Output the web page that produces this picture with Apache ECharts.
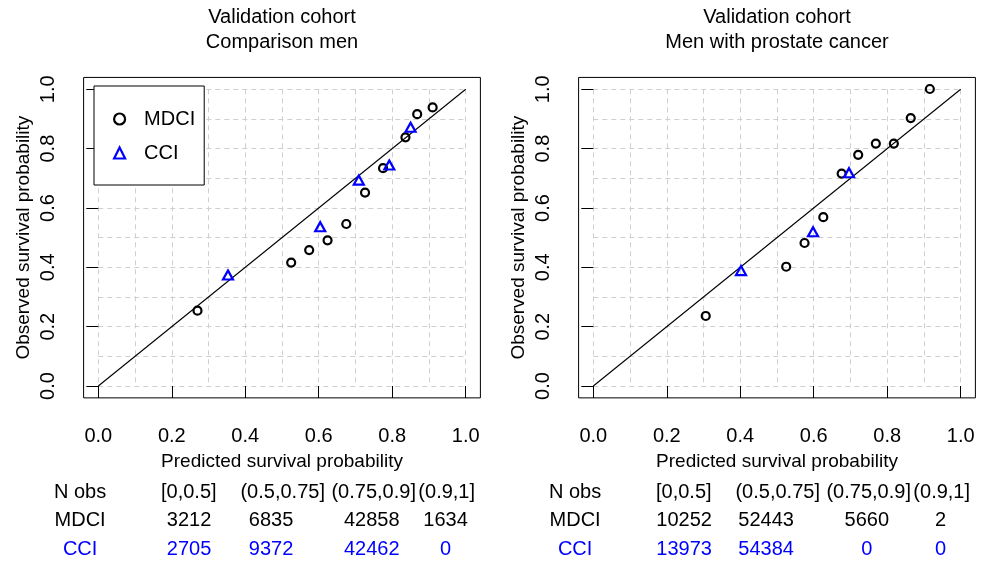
<!DOCTYPE html>
<html><head><meta charset="utf-8">
<script src="https://cdn.jsdelivr.net/npm/echarts@6/dist/echarts.min.js"></script>
<style>html,body{margin:0;padding:0;background:#fff}#c{width:988px;height:563px}</style>
</head><body><div id="c"></div>
<script>
// ---------- data ----------
const panelTitles = [['Validation cohort', 'Comparison men'], ['Validation cohort', 'Men with prostate cancer']];
const xTitle = 'Predicted survival probability';
const yTitle = 'Observed survival probability';
const seriesNames = ['MDCI', 'CCI'];
const binLabels = ['[0,0.5]', '(0.5,0.75]', '(0.75,0.9]', '(0.9,1]'];
const rowLabels = ['N obs', 'MDCI', 'CCI'];
const diagonal = [0, 1];

// Comparison men
const compMDCIx = [0.270, 0.525, 0.574, 0.624, 0.675, 0.726, 0.775, 0.836, 0.868, 0.910];
const compMDCIy = [0.254, 0.416, 0.458, 0.491, 0.546, 0.652, 0.734, 0.838, 0.916, 0.939];
const compCCIx = [0.353, 0.604, 0.709, 0.792, 0.850];
const compCCIy = [0.374, 0.537, 0.694, 0.745, 0.872];
const compNobsMDCI = [3212, 6835, 42858, 1634];
const compNobsCCI = [2705, 9372, 42462, 0];

// Men with prostate cancer
const pcMDCIx = [0.306, 0.525, 0.575, 0.626, 0.676, 0.721, 0.769, 0.818, 0.864, 0.916];
const pcMDCIy = [0.236, 0.402, 0.482, 0.569, 0.716, 0.779, 0.817, 0.817, 0.903, 1.001];
const pcCCIx = [0.402, 0.598, 0.696];
const pcCCIy = [0.389, 0.520, 0.719];
const pcNobsMDCI = [10252, 52443, 5660, 2];
const pcNobsCCI = [13973, 54384, 0, 0];

// ---------- layout ----------
const FONT = '"Liberation Sans", Arial, Helvetica, sans-serif';
const innerLeft = [98.3, 593.3], innerTop = 89.3, innerW = 367.4, innerH = 296.7;
const padX = 0.04 * innerW, padY = 0.04 * innerH;
const blue = '#0000FF';

const panels = [
  {mx: compMDCIx, my: compMDCIy, cx: compCCIx, cy: compCCIy, nM: compNobsMDCI, nC: compNobsCCI},
  {mx: pcMDCIx, my: pcMDCIy, cx: pcCCIx, cy: pcCCIy, nM: pcNobsMDCI, nC: pcNobsCCI}
];
const zip = (a, b) => a.map((v, i) => [v, b[i]]);

const grid = [], xAxis = [], yAxis = [], series = [], graphic = [];
panels.forEach((p, k) => {
  const L = innerLeft[k];
  const base = k * 3;
  grid.push({left: L, top: innerTop, width: innerW, height: innerH, containLabel: false});
  grid.push({left: L, top: innerTop, width: innerW, height: innerH, containLabel: false});
  grid.push({left: L - padX, top: innerTop - padY, width: innerW + 2 * padX, height: innerH + 2 * padY,
    show: true, borderColor: '#000', borderWidth: 1, backgroundColor: 'transparent', containLabel: false});

  const dashed = {show: true, lineStyle: {color: '#cfcfcf', type: [5, 4], width: 1}};
  xAxis.push({gridIndex: base, type: 'value', min: 0, max: 1, interval: 0.1, position: 'bottom',
    axisLine: {show: false}, axisTick: {show: false}, axisLabel: {show: false}, splitLine: dashed});
  yAxis.push({gridIndex: base, type: 'value', min: 0, max: 1, interval: 0.1, position: 'left',
    axisLine: {show: false}, axisTick: {show: false}, axisLabel: {show: false}, splitLine: dashed});

  xAxis.push({gridIndex: base + 1, type: 'value', min: 0, max: 1, interval: 0.2, position: 'bottom', offset: padY,
    axisLine: {show: false}, axisTick: {show: true, inside: false, length: 12, lineStyle: {color: '#000', width: 1}},
    axisLabel: {show: true, margin: 29, fontSize: 20, color: '#000', fontFamily: FONT, formatter: v => v.toFixed(1)},
    splitLine: {show: false},
    name: xTitle, nameLocation: 'middle', nameGap: 54, nameTextStyle: {fontSize: 19, color: '#000', fontFamily: FONT}});
  yAxis.push({gridIndex: base + 1, type: 'value', min: 0, max: 1, interval: 0.2, position: 'left', offset: padX,
    axisLine: {show: false}, axisTick: {show: true, inside: false, length: 12, lineStyle: {color: '#000', width: 1}},
    axisLabel: {show: true, margin: 25, rotate: 90, fontSize: 20, color: '#000', fontFamily: FONT, formatter: v => v.toFixed(1)},
    splitLine: {show: false},
    name: yTitle, nameLocation: 'middle', nameGap: 50, nameTextStyle: {fontSize: 19, color: '#000', fontFamily: FONT}});

  xAxis.push({gridIndex: base + 2, type: 'value', min: -0.04, max: 1.04, show: false});
  yAxis.push({gridIndex: base + 2, type: 'value', min: -0.04, max: 1.04, show: false});

  series.push({type: 'line', xAxisIndex: base, yAxisIndex: base, data: zip(diagonal, diagonal),
    symbol: 'none', lineStyle: {color: '#000', width: 1.1}, silent: true, z: 3});
  series.push({name: seriesNames[0], type: 'scatter', xAxisIndex: base, yAxisIndex: base, data: zip(p.mx, p.my),
    symbol: 'circle', symbolSize: 8, clip: false, silent: true, z: 4,
    itemStyle: {color: 'rgba(255,255,255,0)', borderColor: '#000', borderWidth: 2.2, opacity: 1},
    emphasis: {disabled: true}});
  series.push({name: seriesNames[1], type: 'scatter', xAxisIndex: base, yAxisIndex: base, data: zip(p.cx, p.cy),
    symbol: 'triangle', symbolSize: [10, 9], clip: false, silent: true, z: 5,
    itemStyle: {color: 'rgba(255,255,255,0)', borderColor: blue, borderWidth: 2.2, opacity: 1},
    emphasis: {disabled: true}});

  const boxLeft = L - padX;
  const cxTitle = L + innerW / 2;
  panelTitles[k].forEach((t, i) => {
    graphic.push({type: 'text', x: cxTitle, y: 17.5 + i * 24.5,
      style: {text: t, fill: '#000', font: '20px ' + FONT, align: 'center', verticalAlign: 'middle'}});
  });
  const rowsY = [492, 520.5, 549];
  const rowColors = ['#000', '#000', blue];
  const headerDx = [105.2, 199.1, 290.1, 363.1];
  const valueDx = [105.5, 187.5, 288.2, 362];
  const rows = [binLabels, p.nM.map(String), p.nC.map(String)];
  rows.forEach((r, ri) => {
    graphic.push({type: 'text', x: boxLeft - 3.5, y: rowsY[ri],
      style: {text: rowLabels[ri], fill: rowColors[ri], font: '20px ' + FONT, align: 'center', verticalAlign: 'middle'}});
    r.forEach((t, ci) => {
      graphic.push({type: 'text', x: boxLeft + (ri === 0 ? headerDx[ci] : valueDx[ci]), y: rowsY[ri],
        style: {text: t, fill: rowColors[ri], font: '20px ' + FONT, align: 'center', verticalAlign: 'middle'}});
    });
  });
});

const chart = echarts.init(document.getElementById('c'), null, {renderer: 'canvas'});
chart.setOption({
  animation: false,
  backgroundColor: '#fff',
  textStyle: {fontFamily: FONT},
  grid, xAxis, yAxis, series, graphic,
  legend: {
    show: true, orient: 'vertical', left: 94, top: 86,
    padding: [23, 9, 22, 19], itemGap: 14, itemWidth: 11, itemHeight: 11,
    borderColor: '#000', borderWidth: 1, borderRadius: 0, backgroundColor: '#fff',
    selectedMode: false,
    itemStyle: {borderWidth: 2.2, opacity: 1},
    textStyle: {fontSize: 20, color: '#000', fontFamily: FONT, lineHeight: 20, padding: [0, 0, 0, 14]},
    data: [{name: seriesNames[0], icon: 'circle'}, {name: seriesNames[1], icon: 'triangle'}]
  }
});
</script>
</body></html>
